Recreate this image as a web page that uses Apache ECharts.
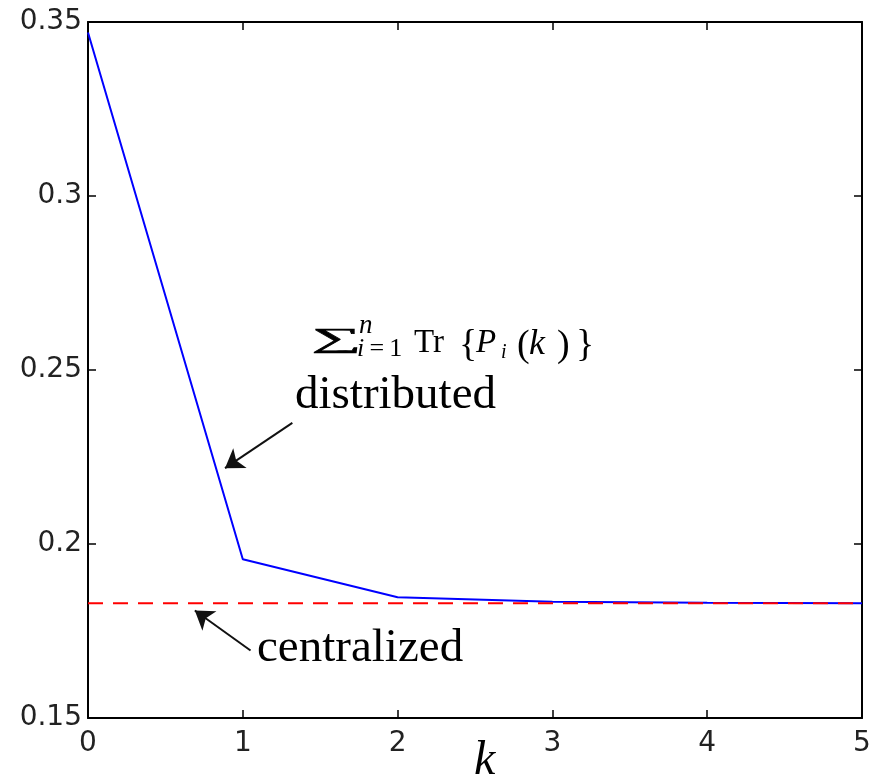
<!DOCTYPE html>
<html>
<head>
<meta charset="utf-8">
<script src="https://cdn.jsdelivr.net/npm/echarts@6/dist/echarts.min.js"></script>
<style>
  html, body { margin: 0; padding: 0; background: #fff; }
  #chart { width: 883px; height: 780px; }
</style>
</head>
<body>
<div id="chart"></div>
<script>
// data
var kValues = [0, 1, 2, 3, 4, 5];
var distributed = [0.347, 0.1956, 0.1847, 0.1834, 0.1831, 0.183];
var centralized = [0.183, 0.183, 0.183, 0.183, 0.183, 0.183];
var yTicks = [0.15, 0.2, 0.25, 0.3, 0.35];

// annotation arrows (tail -> head), in data units
var arrowDistributed = [[1.32, 0.2348], [0.885, 0.2218]];
var arrowCentralized = [[1.05, 0.1694], [0.69, 0.1809]];

var myChart = echarts.init(document.getElementById("chart"));

var tickFont = {
  fontSize: 28,
  color: "#222",
  fontFamily: "DejaVu Sans, sans-serif",
};
var serif = "Liberation Serif, DejaVu Serif, serif";

function pairs(xs, ys) {
  return xs.map(function (x, i) {
    return [x, ys[i]];
  });
}

function arrowLine(a) {
  return [{ coord: a[0] }, { coord: a[1] }];
}

function txt(left, top, s, font, extra) {
  return Object.assign(
    {
      type: "text",
      left: left,
      top: top,
      style: { text: s, font: font + " " + serif, fill: "#000" },
    },
    extra || {}
  );
}

function boxLine() {
  return { show: true, onZero: false, lineStyle: { color: "#000", width: 2 } };
}
function boxTick() {
  return { show: true, inside: true, length: 8, lineStyle: { color: "#000", width: 1.5 } };
}

myChart.setOption({
  animation: false,
  grid: {
    left: 88,
    top: 22,
    right: 21,
    bottom: 62,
    containLabel: false,
    outerBoundsMode: "none",
  },
  xAxis: [
    {
      type: "value",
      min: 0,
      max: 5,
      interval: 1,
      axisLine: boxLine(),
      axisTick: boxTick(),
      axisLabel: Object.assign({ margin: 12 }, tickFont),
      splitLine: { show: false },
    },
    {
      type: "value",
      position: "top",
      min: 0,
      max: 5,
      interval: 1,
      axisLine: boxLine(),
      axisTick: boxTick(),
      axisLabel: { show: false },
      splitLine: { show: false },
    },
  ],
  yAxis: [
    {
      type: "value",
      min: yTicks[0],
      max: yTicks[yTicks.length - 1],
      interval: 0.05,
      axisLine: boxLine(),
      axisTick: boxTick(),
      axisLabel: Object.assign(
        {
          margin: 6,
          padding: [4, 0, 0, 0],
          formatter: function (v) {
            return String(Math.round(v * 100) / 100);
          },
        },
        tickFont
      ),
      splitLine: { show: false },
    },
    {
      type: "value",
      position: "right",
      min: yTicks[0],
      max: yTicks[yTicks.length - 1],
      interval: 0.05,
      axisLine: boxLine(),
      axisTick: boxTick(),
      axisLabel: { show: false },
      splitLine: { show: false },
    },
  ],
  series: [
    {
      name: "distributed",
      type: "line",
      data: pairs(kValues, distributed),
      symbol: "none",
      lineStyle: { color: "#0000ff", width: 2 },
      z: 2,
      markLine: {
        silent: true,
        symbol: ["none", "arrow"],
        symbolSize: 18,
        label: { show: false },
        lineStyle: { color: "#111", width: 2, type: "solid" },
        data: [arrowLine(arrowDistributed), arrowLine(arrowCentralized)],
      },
    },
    {
      name: "centralized",
      type: "line",
      data: pairs(kValues, centralized),
      symbol: "none",
      lineStyle: { color: "#ff0000", width: 2, type: [15, 10] },
      z: 3,
    },
  ],
  graphic: [
    txt(474, 737, "k", "italic 48px"),
    txt(295, 372, "distributed", "47px"),
    txt(257, 625, "centralized", "47px"),
    // sum_{i=1}^{n} Tr {P_i (k)}
    txt(311, 326, "\u2211", "38px", {
      scaleX: 1.85,
      scaleY: 0.72,
      style: { text: "\u2211", font: "38px " + serif, fill: "#000", stroke: "#000", lineWidth: 0.8 },
    }),
    txt(359, 312, "n", "italic 27px"),
    txt(357, 336, "", "26px", {
      style: {
        text: "{it|i}{n|\u2009=\u20091}",
        rich: {
          it: { fontSize: 26, fontStyle: "italic", fontFamily: serif },
          n: { fontSize: 26, fontFamily: serif },
        },
      },
    }),
    txt(414, 327, "Tr", "33px"),
    txt(459, 327, "\u007B", "38px"),
    txt(476, 327, "P", "italic 33px"),
    txt(501, 343, "i", "italic 20px"),
    txt(517, 327, "(", "38px"),
    txt(529, 327, "k", "italic 36px"),
    txt(557, 327, ")", "38px"),
    txt(576, 327, "\u007D", "38px"),
  ],
});
</script>
</body>
</html>
